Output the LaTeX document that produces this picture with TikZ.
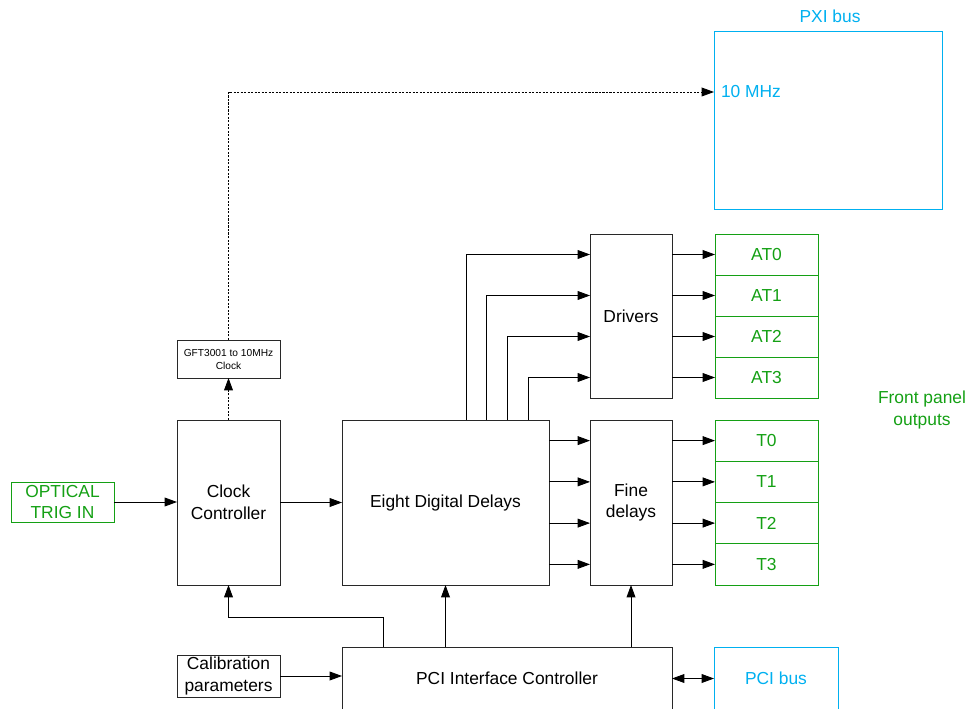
\documentclass[tikz,border=0pt]{standalone}
\usepackage{fontspec}
\setmainfont{Liberation Sans}
\usetikzlibrary{calc,arrows.meta}
\definecolor{busblue}{RGB}{0,176,240}
\definecolor{outgreen}{RGB}{20,160,20}
\definecolor{boxline}{RGB}{40,40,40}

\begin{document}
\begin{tikzpicture}[x=0.02cm, y=-0.02cm,
    every node/.style={font=\fontsize{9.9}{12.5}\selectfont, inner sep=0pt, outer sep=0pt},
    sz/.style 2 args={minimum width=#1*0.02cm, minimum height=#2*0.02cm},
    blk/.style={draw=boxline, line width=0.5pt, align=center, anchor=north west},
    grn/.style={draw=outgreen, text=outgreen, line width=0.5pt, align=center, anchor=north west},
    bus/.style={draw=busblue, text=busblue, line width=0.5pt, anchor=north west},
    arr/.style={-{Triangle[length=7pt,width=5pt]}, line width=0.5pt},
    clkline/.style={arr, dash pattern=on 1.2pt off 0.8pt}]
			\clip (0,0) rectangle (966,709);
			
			\node[bus, sz={228}{178}] (pxi) at (714,31) {};
			\node[text=busblue] (pxilbl) at (830,16) {PXI bus};
			\node[text=busblue, anchor=west] (mhz) at (721,92) {10 MHz};
			
			\node[blk, sz={103}{38}, font=\fontsize{5.8}{7.4}\selectfont] (gft) at (177,340) {GFT3001 to 10MHz\\Clock};
			\node[blk, sz={103}{165}] (ctrl) at (177,420) {Clock\\Controller};
			\node[grn, sz={103}{40}] (trig) at (11,482) {OPTICAL\\TRIG IN};
			\node[blk, sz={207}{165}] (dd) at (342,420) {Eight Digital Delays};
			\node[blk, sz={82}{164}] (drv) at (590,234) {Drivers};
			\node[blk, sz={82}{165}] (fd) at (590,420) {Fine\\delays};
			
			\foreach \i in {0,...,3}
				\node[grn, sz={103}{41}] (at\i) at (715,234+41*\i) {AT\i};
			\foreach \i in {0,...,3}
				\node[grn, sz={103}{41.25}] (t\i) at (715,420+41.25*\i) {T\i};
			\node[text=outgreen, align=center] (front) at (922,410) {Front panel\\outputs};
			
			\node[blk, sz={330}{63}] (pci) at (342,647) {PCI Interface Controller};
			\node[blk, sz={103}{42}] (cal) at (177,655) {Calibration\\parameters};
			\node[bus, sz={124}{63}] (pcibus) at (714,647) {PCI bus};
			
			\draw[arr] (trig.east) -- (trig.east -| ctrl.west);
			\draw[arr] (ctrl.east) -- (dd.west);
			\draw[clkline] (ctrl.north) -- (gft.south);
			\draw[clkline] (gft.north) |- (pxi.west |- mhz);
			
			\foreach \i/\f in {0/0.6,1/0.7,2/0.8,3/0.9} {
				\draw[arr] ($(dd.north west)!\f!(dd.north east)$) |- (drv.west |- at\i);
				\draw[arr] (drv.east |- at\i) -- (at\i.west);
				\draw[arr] (dd.east |- t\i) -- (fd.west |- t\i);
				\draw[arr] (fd.east |- t\i) -- (t\i.west);
			}
			
			\draw[arr] (cal.east) -- (cal.east -| pci.west);
			\draw[{Triangle[length=7pt,width=5pt]}-{Triangle[length=7pt,width=5pt]}, line width=0.5pt] (pci.east) -- (pcibus.west);
			\draw[arr] (dd.south |- pci.north) -- (dd.south);
			\draw[arr] (fd.south |- pci.north) -- (fd.south);
			\draw[arr] ($(pci.north west)!0.127!(pci.north east)$) -- ++(0,-30) -| (ctrl.south);
		\end{tikzpicture}
\end{document}
